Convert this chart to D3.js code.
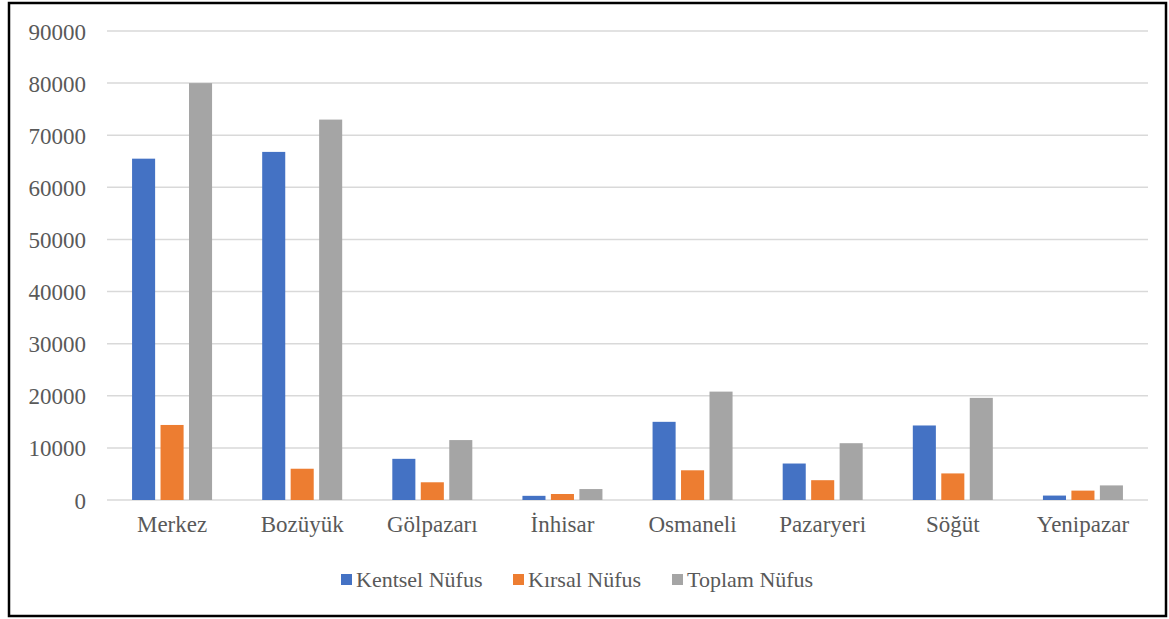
<!DOCTYPE html>
<html>
<head>
<meta charset="utf-8">
<script src="https://cdn.jsdelivr.net/npm/d3@7"></script>
<style>
	body { margin: 0; background: #fff; }
</style>
</head>
<body>
<svg id="chart_svg" width="1169" height="619"></svg>
<script>
// ilçe adları
var categories = ["Merkez", "Bozüyük", "Gölpazarı", "İnhisar", "Osmaneli", "Pazaryeri", "Söğüt", "Yenipazar"];
var series_names = ["Kentsel Nüfus", "Kırsal Nüfus", "Toplam Nüfus"];
var series_colors = ["#4472c4", "#ed7d31", "#a5a5a5"];
var kentsel = [65500, 66800, 7900, 800, 15000, 7000, 14300, 850];
var kirsal  = [14400, 6000, 3400, 1150, 5700, 3800, 5100, 1800];
var toplam  = [80000, 73000, 11500, 2100, 20800, 10900, 19600, 2800];
var y_ticks = [0, 10000, 20000, 30000, 40000, 50000, 60000, 70000, 80000, 90000];

var font = "'Liberation Serif', 'Times New Roman', serif";

function init_bar_chart() {
	var svg = d3.select("#chart_svg");
	var width = +svg.attr("width"), height = +svg.attr("height");
	var margin = {left: 107, right: 21, top: 31, bottom: 119};

	// outer frame
	svg.append("rect")
	  .attr("x", 9).attr("y", 3)
	  .attr("width", width - 12).attr("height", height - 6)
	  .style("fill", "none")
	  .style("stroke", "#000")
	  .style("stroke-width", 2.5);

	var x_scale = d3.scaleBand()
	  .domain(categories)
	  .range([margin.left, width - margin.right]);
	var inner_scale = d3.scaleBand()
	  .domain(d3.range(series_names.length))
	  .range([-40, 40])
	  .paddingInner(0.19);
	var y_scale = d3.scaleLinear()
	  .domain([0, 90000])
	  .range([height - margin.bottom, margin.top]);

	// grid lines
	svg.append("g")
	  .attr("class", "grid")
	  .selectAll("line")
	  .data(y_ticks)
	  .enter().append("line")
	  .attr("x1", margin.left).attr("x2", width - margin.right)
	  .attr("y1", d=>y_scale(d)).attr("y2", d=>y_scale(d))
	  .style("stroke", "#d9d9d9")
	  .style("stroke-width", 1.5);

	// y axis labels
	var y_axis = d3.axisLeft(y_scale).tickValues(y_ticks).tickSize(0).tickPadding(21).tickFormat(d3.format("d"));
	var y_g = svg.append("g")
	  .attr("transform", "translate(" + margin.left + ",0)")
	  .call(y_axis)
	  .attr("font-family", font);
	y_g.select(".domain").remove();
	y_g.selectAll("text")
	  .style("font-family", font)
	  .style("font-size", "23px")
	  .style("fill", "#595959")
	  .attr("dy", "0.35em");

	var values = [kentsel, kirsal, toplam];
	var bars_data = [];
	categories.forEach((c, i)=>{
		for (var s = 0; s < series_names.length; s++)
			bars_data.push({cat: c, s: s, v: values[s][i]});
	});

	svg.append("g")
	  .attr("class", "bars")
	  .selectAll("rect")
	  .data(bars_data)
	  .enter().append("rect")
	  .attr("x", d=>x_scale(d.cat) + x_scale.bandwidth() / 2 + inner_scale(d.s))
	  .attr("width", inner_scale.bandwidth())
	  .attr("y", d=>y_scale(d.v))
	  .attr("height", d=>y_scale(0) - y_scale(d.v))
	  .style("fill", d=>series_colors[d.s]);

	// x axis labels
	var x_axis = d3.axisBottom(x_scale).tickSize(0).tickPadding(16);
	var x_g = svg.append("g")
	  .attr("transform", "translate(0," + y_scale(0) + ")")
	  .call(x_axis)
	  .attr("font-family", font);
	x_g.select(".domain").remove();
	x_g.selectAll("text")
	  .style("font-family", font)
	  .style("font-size", "23px")
	  .style("fill", "#595959");

	// legend
	var legend_x = [341, 513, 672];
	var legend = svg.append("g").attr("class", "legend")
	  .selectAll("g")
	  .data(series_names)
	  .enter().append("g")
	  .attr("transform", (d,i)=>"translate(" + legend_x[i] + ",574)");
	legend.append("rect")
	  .attr("width", 11).attr("height", 11)
	  .style("fill", (d,i)=>series_colors[i]);
	legend.append("text")
	  .attr("x", 15).attr("y", 13)
	  .style("font-family", font)
	  .style("font-size", "22px")
	  .style("fill", "#595959")
	  .text(d=>d);
}

init_bar_chart();
</script>
</body>
</html>
